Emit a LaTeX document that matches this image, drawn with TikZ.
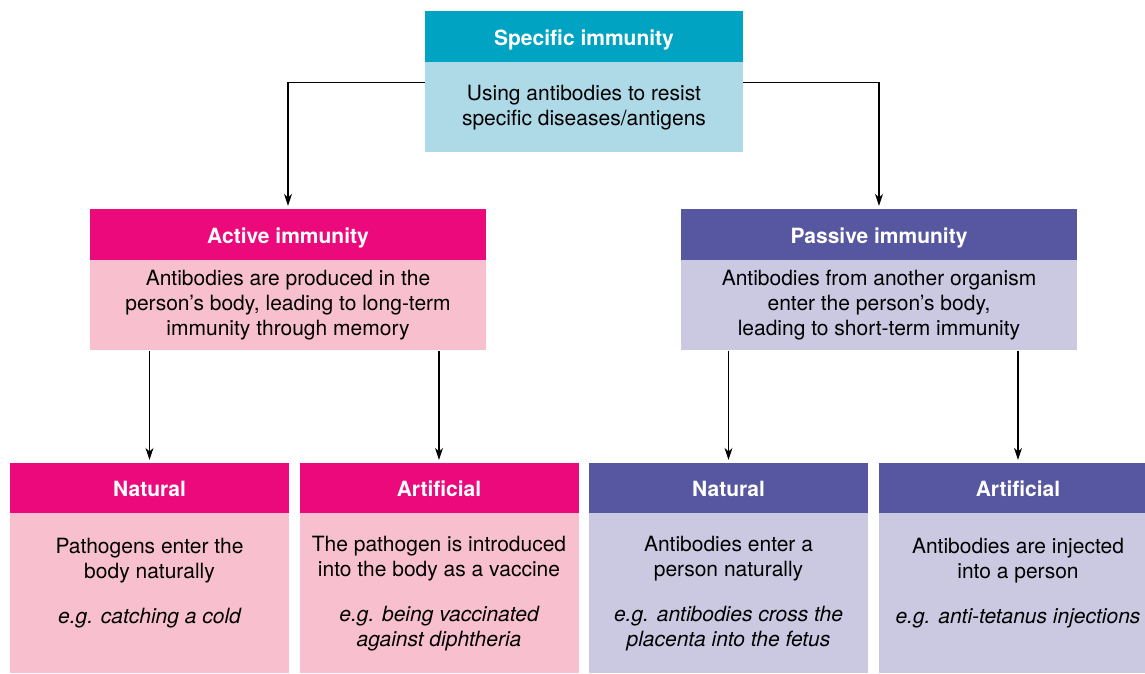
\documentclass[tikz,border=0pt]{standalone}
\usepackage{fontspec}
\setmainfont{TeX Gyre Heros}
\usetikzlibrary{positioning,arrows.meta}
\begin{document}
\begin{tikzpicture}[x=1pt,y=-1pt,font=\fontsize{21}{25}\selectfont]
  % Colors
  \definecolor{spechead}{HTML}{00A3C1}
  \definecolor{specbody}{HTML}{AED9E6}
  \definecolor{acthead}{HTML}{EC097C}
  \definecolor{actbody}{HTML}{F8C0CF}
  \definecolor{pashead}{HTML}{5657A0}
  \definecolor{pasbody}{HTML}{CBC9E2}

  % Styles
  \tikzstyle{head}=[inner sep=0pt,text=white,font=\fontsize{21}{25}\selectfont\bfseries,
    text height=20pt,text depth=3pt,minimum height=51pt]
  \tikzstyle{body}=[inner sep=0pt,align=center,below=0pt of #1]
  \tikzstyle{wide}=[minimum width=396pt]
  \tikzstyle{leaf}=[minimum width=279pt]
  \tikzstyle{link}=[-{Stealth[length=12pt,width=8pt]},line width=1.1pt,shorten >=3pt]

  \useasboundingbox (0,0) rectangle (1145,673);
  \clip (0,0) rectangle (1145,673);

  % The graphic
  \node[head,fill=spechead,minimum width=318pt] (spec) at (584,36.5) {Specific immunity};
  \node[body=spec,fill=specbody,minimum width=318pt,minimum height=90pt] (specb)
    {Using antibodies to resist\\specific diseases/antigens};

  \node[head,wide,fill=acthead] (act) at (288,234.5) {Active immunity};
  \node[body=act,wide,fill=actbody,minimum height=90pt] (actb)
    {Antibodies are produced in the\\person’s body, leading to long-term\\immunity through memory};

  \node[head,wide,fill=pashead] (pas) at (879,234.5) {Passive immunity};
  \node[body=pas,wide,fill=pasbody,minimum height=90pt] (pasb)
    {Antibodies from another organism\\enter the person’s body,\\leading to short-term immunity};

  \node[head,leaf,fill=acthead,minimum height=50pt] (actnat) at (149.5,488) {Natural};
  \node[body=actnat,leaf,fill=actbody,minimum height=160pt] (actnatb)
    {Pathogens enter the\\body naturally\\[20pt]\itshape e.g. catching a cold\\\phantom{x}};

  \node[head,leaf,fill=acthead,minimum height=50pt] (actart) at (439,488) {Artificial};
  \node[body=actart,leaf,fill=actbody,minimum height=160pt] (actartb)
    {The pathogen is introduced\\into the body as a vaccine\\[20pt]\itshape e.g. being vaccinated\\\itshape against diphtheria};

  \node[head,leaf,fill=pashead,minimum height=50pt] (pasnat) at (728.5,488) {Natural};
  \node[body=pasnat,leaf,fill=pasbody,minimum height=160pt] (pasnatb)
    {Antibodies enter a\\person naturally\\[20pt]\itshape e.g. antibodies cross the\\\itshape placenta into the fetus};

  \node[head,leaf,fill=pashead,minimum height=50pt] (pasart) at (1018,488) {Artificial};
  \node[body=pasart,leaf,fill=pasbody,minimum height=160pt] (pasartb)
    {Antibodies are injected\\into a person\\[20pt]\itshape e.g. anti-tetanus injections\\\phantom{x}};

  % Connectors
  \draw[link] ([yshift=-20pt]specb.north west) -| (act.north);
  \draw[link] ([yshift=-20pt]specb.north east) -| (pas.north);
  \foreach \a/\b in {actb/actnat,actb/actart,pasb/pasnat,pasb/pasart}
    \draw[link] (\a.south -| \b.north) -- (\b.north);
\end{tikzpicture}
\end{document}
